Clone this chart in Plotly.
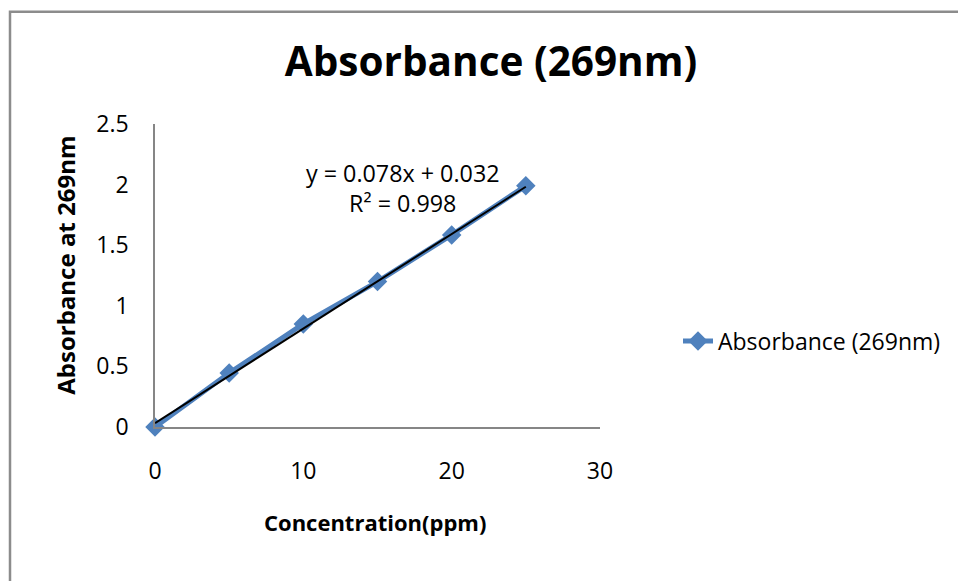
import plotly.graph_objects as go

# Data
concentration = [0, 5, 10, 15, 20, 25]
absorbance = [0.0, 0.445, 0.85, 1.20, 1.585, 1.99]
slope = 0.078
intercept = 0.032
r_squared = 0.998
trend_x = [0, 25]
x_ticks = [0, 10, 20, 30]
y_ticks = [0, 0.5, 1, 1.5, 2, 2.5]
y_tick_labels = ["0", "0.5", "1", "1.5", "2", "2.5"]

series_name = "Absorbance (269nm)"
title_text = "Absorbance (269nm)"
x_title = "Concentration(ppm)"
y_title = "Absorbance at 269nm"

BLUE = "#4F81BD"
AXIS = "#868686"
FONT = "Open Sans"

fig = go.Figure()
fig.add_trace(go.Scatter(
    x=concentration, y=absorbance, mode="lines+markers", name=series_name,
    line=dict(color=BLUE, width=5),
    marker=dict(symbol="diamond", size=15, color=BLUE),
    cliponaxis=False,
))
trend_y = [slope * x + intercept for x in trend_x]
fig.add_trace(go.Scatter(
    x=trend_x, y=trend_y, mode="lines", showlegend=False,
    line=dict(color="black", width=2), cliponaxis=False,
))

L, R, T, B = 155, 600, 124, 427.5
W, H = 958, 581
pw, ph = R - L, B - T

def px(xp):
    return (xp - L) / pw

def py(yp):
    return (B - yp) / ph

fig.update_layout(
    width=W, height=H,
    margin=dict(l=L, r=W - R, t=T, b=H - B, pad=0),
    paper_bgcolor="white", plot_bgcolor="white",
    font=dict(family=FONT, size=23, color="black"),
    title=dict(text="<b>" + title_text + "</b>", x=491 / W, xref="container", xanchor="center",
               y=1 - 62 / H, yref="container", yanchor="middle",
               font=dict(family=FONT, size=40.5, color="black")),
    showlegend=True,
    legend=dict(x=678 / W, xref="container", xanchor="left",
                y=1 - 341 / H, yref="container", yanchor="middle",
                font=dict(family=FONT, size=23, color="black"),
                bgcolor="rgba(0,0,0,0)"),
    xaxis=dict(range=[0, 30], tickvals=x_ticks, showgrid=False, zeroline=False,
               showline=True, linecolor=AXIS, linewidth=1.5, ticks="",
               ticklabelstandoff=23, tickfont=dict(family=FONT, size=23)),
    yaxis=dict(range=[0, 2.5], tickvals=y_ticks, ticktext=y_tick_labels, showgrid=False,
               zeroline=False, showline=True, linecolor=AXIS, linewidth=1.5, ticks="",
               ticklabelstandoff=20, tickfont=dict(family=FONT, size=23)),
    annotations=[
        dict(text="<b>" + x_title + "</b>", xref="paper", yref="paper",
             x=px(375), y=py(523), showarrow=False, xanchor="center", yanchor="middle",
             font=dict(family=FONT, size=22)),
        dict(text="<b>" + y_title + "</b>", xref="paper", yref="paper",
             x=px(66), y=py(266), showarrow=False, textangle=-90,
             xanchor="center", yanchor="middle", font=dict(family=FONT, size=24)),
        dict(text=f"y = {slope}x + {intercept}<br>R² = {r_squared}", xref="paper", yref="paper",
             x=px(403), y=py(188), showarrow=False, xanchor="center", yanchor="middle",
             align="center", font=dict(family=FONT, size=23.3)),
    ],
    shapes=[
        dict(type="rect", xref="paper", yref="paper",
             x0=px(10), x1=px(962), y0=py(595), y1=py(11.5),
             line=dict(color="#8C8C8C", width=2.5), fillcolor="rgba(0,0,0,0)", layer="above"),
    ],
)

fig.write_html("out.html",
               config={"displayModeBar": False},
               post_script="document.body.style.margin='0';document.body.style.overflow='hidden';")
